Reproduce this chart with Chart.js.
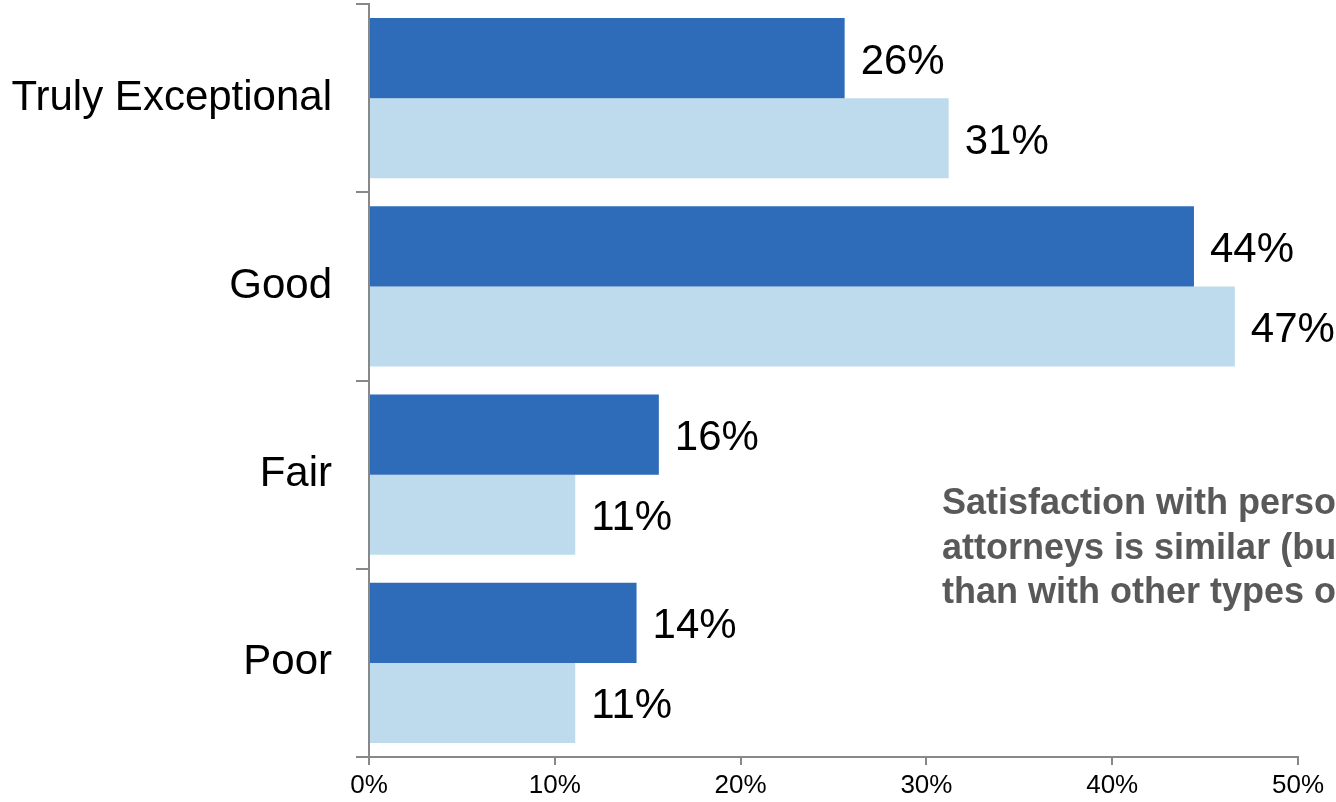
<!DOCTYPE html>
<html>
<head>
<meta charset="utf-8">
<script src="https://cdn.jsdelivr.net/npm/chart.js@4"></script>
<style>
  html, body { margin: 0; padding: 0; background: #fff; overflow: hidden; }
  #wrap { position: relative; width: 1336px; height: 802px; overflow: hidden; }
  #note {
    position: absolute; left: 942px; top: 480px;
    font: bold 36px "Liberation Sans", Arial, sans-serif;
    line-height: 44.5px; color: #595959; white-space: nowrap;
  }
</style>
</head>
<body>
<div id="wrap">
  <canvas id="myChart" width="1336" height="802"></canvas>
  <div id="note">Satisfaction with personal<br>attorneys is similar (but<br>than with other types of</div>
</div>
<script>
// data
const categories = ['Truly Exceptional', 'Good', 'Fair', 'Poor'];
const seriesA = [25.6, 44.4, 15.6, 14.4];   // dark blue
const seriesB = [31.2, 46.6, 11.1, 11.1];   // light blue
const xTicks = [0, 10, 20, 30, 40, 50];

const font = '"Liberation Sans", Arial, sans-serif';

// value labels at the end of each bar
const barLabels = {
  id: 'barLabels',
  afterDatasetsDraw(chart) {
    const ctx = chart.ctx;
    ctx.save();
    ctx.font = '42px ' + font;
    ctx.fillStyle = '#000';
    ctx.textBaseline = 'middle';
    ctx.textAlign = 'left';
    chart.data.datasets.forEach((ds, i) => {
      chart.getDatasetMeta(i).data.forEach((bar, j) => {
        ctx.fillText(Math.round(ds.data[j]) + '%', bar.x + 16, bar.y + 4);
      });
    });
    ctx.restore();
  }
};

const ctx = document.getElementById('myChart');
new Chart(ctx, {
  type: 'bar',
  data: {
    labels: categories,
    datasets: [
      { label: 'A', data: seriesA, backgroundColor: '#2E6BB8', categoryPercentage: 0.85, barPercentage: 1.0 },
      { label: 'B', data: seriesB, backgroundColor: '#BDDBEC', categoryPercentage: 0.85, barPercentage: 1.0 }
    ]
  },
  options: {
    indexAxis: 'y',
    responsive: false,
    animation: false,
    layout: { padding: { top: 4, right: 38, bottom: 0, left: 0 } },
    plugins: { legend: { display: false }, tooltip: { enabled: false } },
    scales: {
      x: {
        min: 0, max: 50,
        afterBuildTicks: (s) => { s.ticks = xTicks.map(v => ({ value: v })); },
        afterFit: (s) => { s.height = 45; s.paddingLeft = 0; s.paddingRight = 0; },
        border: { color: '#888', width: 2 },
        grid: { drawOnChartArea: false, color: '#888', lineWidth: 2, tickLength: 8 },
        ticks: { color: '#000', font: { family: font, size: 26 }, padding: 5, maxRotation: 0,
                 callback: (v) => v + '%' }
      },
      y: {
        afterFit: (s) => { s.width = 369; s.paddingTop = 0; s.paddingBottom = 0; },
        border: { color: '#888', width: 2 },
        grid: { drawOnChartArea: false, color: '#888', lineWidth: 2, tickLength: 13, offset: true },
        ticks: { color: '#000', font: { family: font, size: 42 }, padding: 24 }
      }
    }
  },
  plugins: [barLabels]
});
</script>
</body>
</html>
